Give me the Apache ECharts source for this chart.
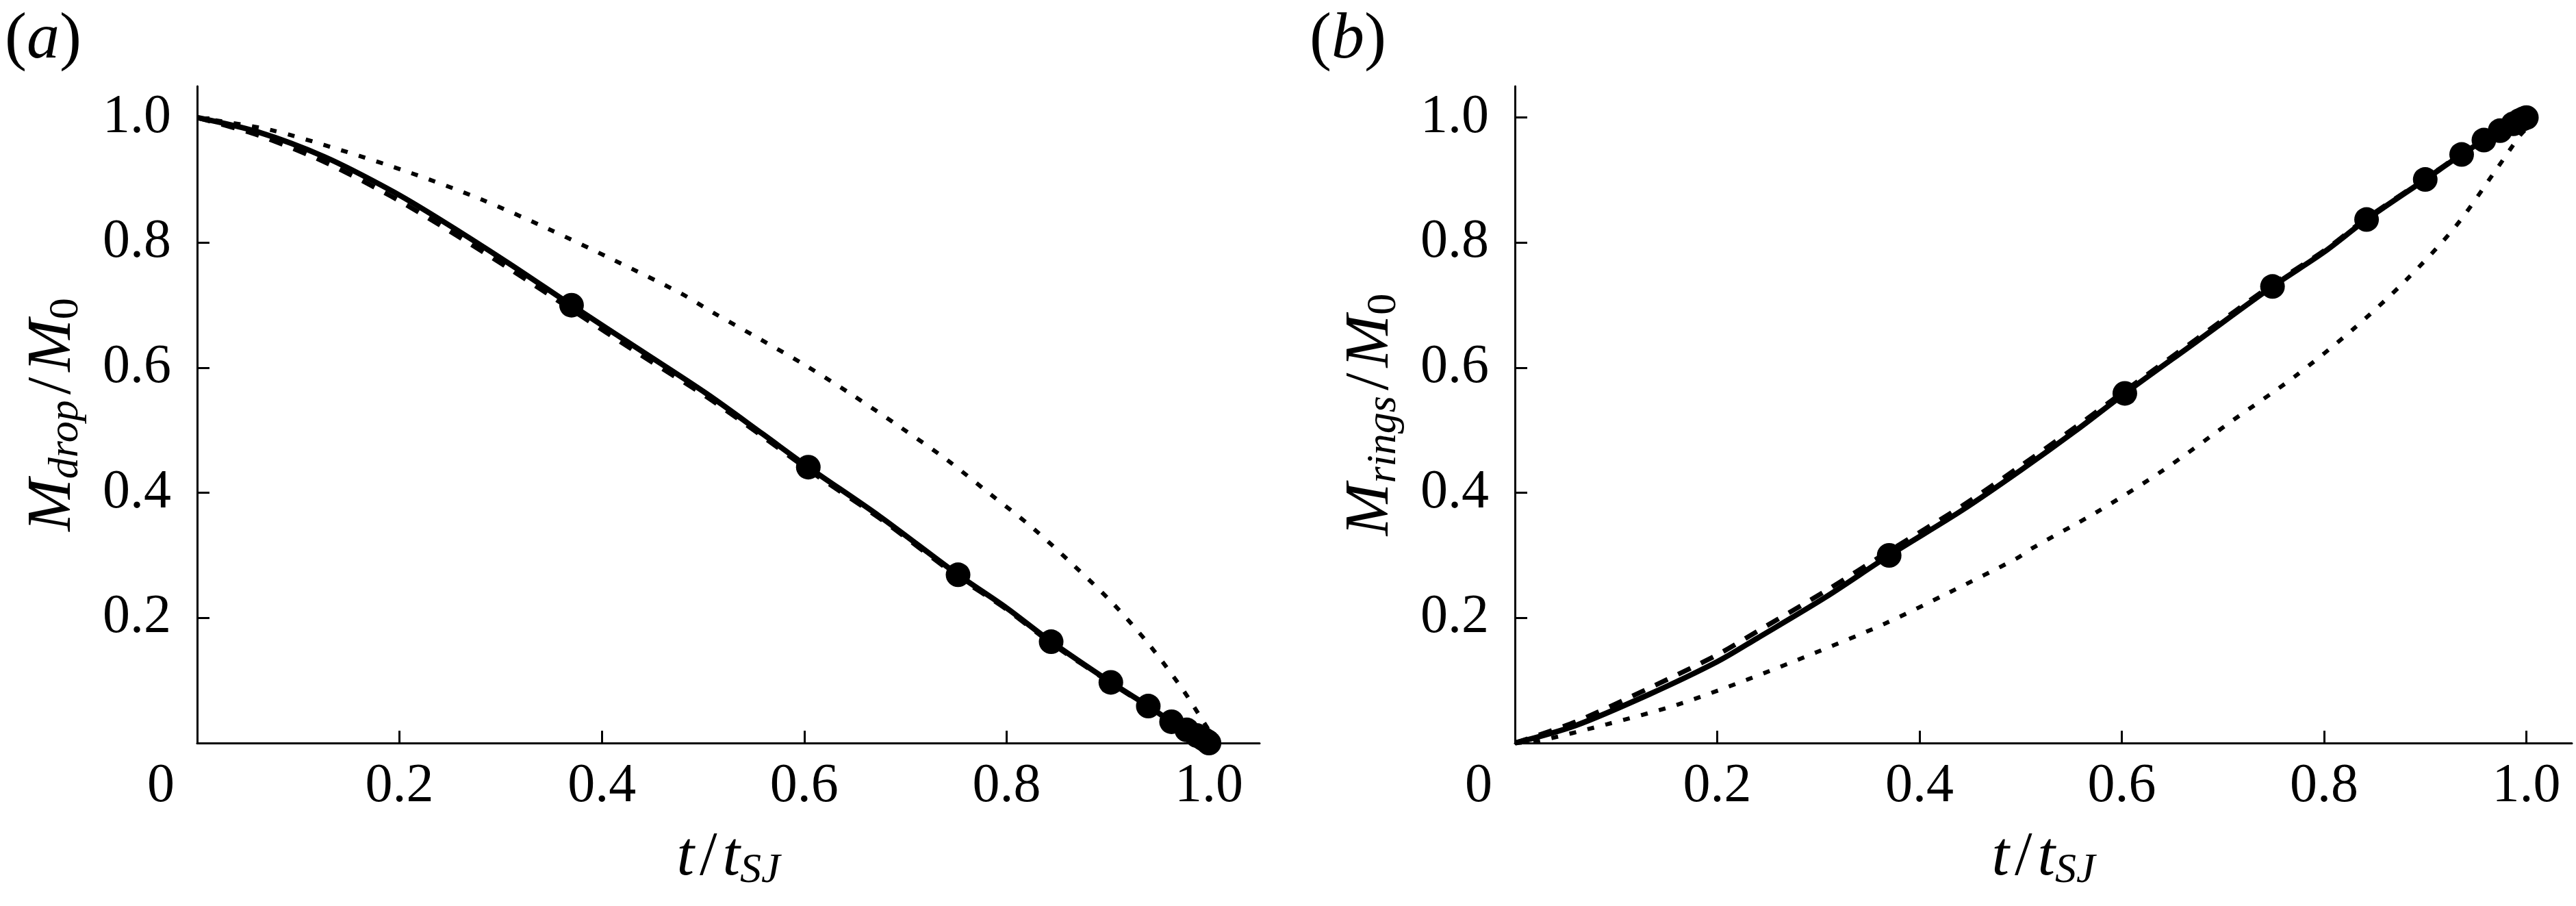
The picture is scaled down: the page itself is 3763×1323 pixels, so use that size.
<!DOCTYPE html>
<html>
<head>
<meta charset="utf-8">
<script src="https://cdn.jsdelivr.net/npm/echarts@6/dist/echarts.min.js"></script>
<style>
html, body { margin: 0; padding: 0; background: #fff; }
#chart { width: 3763px; height: 1323px; }
</style>
</head>
<body>
<div id="chart"></div>
<script>
// tick / label positions
var xTickValues = [0.2, 0.4, 0.6, 0.8, 1.0];
var xLabelValues = [0, 0.2, 0.4, 0.6, 0.8, 1.0];
var yTickValues = [0.2, 0.4, 0.6, 0.8, 1.0];
var yLabelValues = [0.2, 0.4, 0.6, 0.8, 1.0];

// (a) M_drop / M_0
var dropSolid = [[0, 1.0], [0.06, 0.977], [0.126, 0.937], [0.192, 0.883], [0.239, 0.838], [0.307, 0.768],
    [0.370, 0.700], [0.438, 0.628], [0.504, 0.558], [0.559, 0.494], [0.604, 0.441], [0.674, 0.363],
    [0.752, 0.269], [0.799, 0.217], [0.844, 0.162], [0.903, 0.097], [0.940, 0.059], [0.963, 0.034],
    [0.978, 0.021], [0.990, 0.010], [1.0, 0.0]];
var dropDashed = [[0, 1.0], [0.06, 0.972], [0.126, 0.929], [0.192, 0.874], [0.239, 0.829], [0.307, 0.760],
    [0.370, 0.693], [0.438, 0.621], [0.504, 0.553], [0.559, 0.490], [0.604, 0.437], [0.674, 0.360],
    [0.752, 0.266], [0.799, 0.215], [0.844, 0.160], [0.903, 0.096], [0.940, 0.058], [0.963, 0.034],
    [0.978, 0.021], [0.990, 0.010], [1.0, 0.0]];
var dropDotted = [[0, 1.0], [0.073, 0.980], [0.142, 0.948], [0.212, 0.911], [0.281, 0.869], [0.347, 0.822],
    [0.412, 0.772], [0.478, 0.719], [0.510, 0.688], [0.556, 0.646], [0.602, 0.603], [0.648, 0.556],
    [0.694, 0.506], [0.740, 0.454], [0.783, 0.399], [0.825, 0.345], [0.865, 0.286], [0.904, 0.225],
    [0.940, 0.159], [0.973, 0.088], [0.993, 0.038], [1.0, 0.02]];
var dropDots = [[0.370, 0.700], [0.604, 0.441], [0.752, 0.269], [0.844, 0.162], [0.903, 0.097], [0.940, 0.059],
    [0.963, 0.034], [0.978, 0.021], [0.988, 0.012], [0.994, 0.007], [0.998, 0.003], [1.0, 0.0]];

// (b) M_rings / M_0
var ringsSolid = [[0, 0], [0.06, 0.028], [0.133, 0.078], [0.200, 0.130], [0.239, 0.167], [0.307, 0.233],
    [0.370, 0.300], [0.442, 0.372], [0.500, 0.436], [0.555, 0.500], [0.603, 0.559], [0.674, 0.642],
    [0.749, 0.730], [0.800, 0.785], [0.842, 0.837], [0.900, 0.901], [0.936, 0.941], [0.958, 0.964],
    [0.974, 0.979], [0.987, 0.990], [1.0, 1.0]];
var ringsDashed = [[0, 0], [0.06, 0.034], [0.133, 0.088], [0.200, 0.141], [0.239, 0.178], [0.307, 0.243],
    [0.370, 0.307], [0.442, 0.379], [0.500, 0.443], [0.555, 0.506], [0.603, 0.563], [0.674, 0.646],
    [0.749, 0.733], [0.800, 0.787], [0.842, 0.839], [0.900, 0.902], [0.936, 0.942], [0.958, 0.964],
    [0.974, 0.979], [0.987, 0.990], [1.0, 1.0]];
var ringsDotted = [[0, 0], [0.022, 0.003], [0.091, 0.030], [0.160, 0.061], [0.229, 0.101], [0.298, 0.145],
    [0.366, 0.191], [0.431, 0.242], [0.497, 0.296], [0.511, 0.311], [0.576, 0.370], [0.639, 0.434],
    [0.709, 0.515], [0.771, 0.586], [0.829, 0.662], [0.881, 0.740], [0.930, 0.826], [0.972, 0.921],
    [0.994, 0.972], [1.0, 0.982]];
var ringsDots = [[0.370, 0.300], [0.603, 0.559], [0.749, 0.730], [0.842, 0.837], [0.900, 0.901], [0.936, 0.941],
    [0.958, 0.964], [0.974, 0.979], [0.987, 0.990], [0.993, 0.995], [0.997, 0.998], [1.0, 1.0]];

var FONT = "'Liberation Serif', 'Times New Roman', Times, serif";
var chart = echarts.init(document.getElementById('chart'), null, { renderer: 'canvas' });

var nameRich = {
    i: { fontFamily: FONT, fontStyle: 'italic', fontSize: 92, lineHeight: 100, color: '#000', verticalAlign: 'middle' },
    n: { fontFamily: FONT, fontSize: 92, lineHeight: 100, color: '#000', verticalAlign: 'middle', padding: [0, 8, 0, 8] },
    s: { fontFamily: FONT, fontStyle: 'italic', fontSize: 62, lineHeight: 62, color: '#000', verticalAlign: 'bottom' },
    z: { fontFamily: FONT, fontSize: 62, lineHeight: 62, color: '#000', verticalAlign: 'bottom' }
};

function xAxisFor(gridIndex, max) {
    return {
        type: 'value', gridIndex: gridIndex, min: 0, max: max,
        name: '{i|t}{n|/}{i|t}{s|SJ}', nameLocation: 'middle', nameGap: 118,
        nameTextStyle: { rich: nameRich },
        axisLine: { show: true, onZero: false, lineStyle: { color: '#000', width: 3 } },
        axisTick: { show: true, inside: true, length: 18, lineStyle: { color: '#000', width: 3 }, customValues: xTickValues },
        axisLabel: {
            customValues: xLabelValues, margin: 24, color: '#000', fontFamily: FONT, fontSize: 80,
            formatter: function (v) { return v === 0 ? '{z|0}' : v.toFixed(1); },
            rich: { z: { fontFamily: FONT, fontSize: 80, color: '#000', padding: [0, 106, 0, 0] } }
        },
        splitLine: { show: false }
    };
}

function yAxisFor(gridIndex, title) {
    return {
        type: 'value', gridIndex: gridIndex, min: 0, max: 1.05,
        name: title, nameLocation: 'middle', nameGap: 160, nameRotate: 90,
        nameTextStyle: { rich: nameRich },
        axisLine: { show: true, onZero: false, lineStyle: { color: '#000', width: 3 } },
        axisTick: { show: true, inside: true, length: 18, lineStyle: { color: '#000', width: 3 }, customValues: yTickValues },
        axisLabel: {
            customValues: yLabelValues, margin: 38, color: '#000', fontFamily: FONT, fontSize: 80,
            formatter: function (v) { return v.toFixed(1); }
        },
        splitLine: { show: false }
    };
}

function lineSeries(idx, data, width, dash, z) {
    return {
        type: 'line', xAxisIndex: idx, yAxisIndex: idx, data: data, symbol: 'none',
        smooth: 0.3, z: z, silent: true,
        lineStyle: { color: '#000', width: width, type: dash, cap: 'butt' }
    };
}

function dotSeries(idx, data) {
    return {
        type: 'scatter', xAxisIndex: idx, yAxisIndex: idx, data: data, symbol: 'circle',
        symbolSize: 36, z: 10, silent: true, itemStyle: { color: '#000', opacity: 1 }
    };
}

var option = {
    backgroundColor: '#fff',
    animation: false,
    title: [
        { text: '{n|(}{i|a}{n|)}', left: 2, top: 6, textStyle: { rich: {
            n: { fontFamily: FONT, fontWeight: 'normal', fontSize: 96, color: '#000' },
            i: { fontFamily: FONT, fontWeight: 'normal', fontStyle: 'italic', fontSize: 96, color: '#000' } } } },
        { text: '{n|(}{i|b}{n|)}', left: 1908, top: 6, textStyle: { rich: {
            n: { fontFamily: FONT, fontWeight: 'normal', fontSize: 96, color: '#000' },
            i: { fontFamily: FONT, fontWeight: 'normal', fontStyle: 'italic', fontSize: 96, color: '#000' } } } }
    ],
    grid: [
        { left: 288, top: 126, width: 1552, height: 959, outerBoundsMode: 'none' },
        { left: 2213, top: 126, width: 1544, height: 959, outerBoundsMode: 'none' }
    ],
    xAxis: [xAxisFor(0, 1.05), xAxisFor(1, 1.045)],
    yAxis: [
        yAxisFor(0, '{i|M}{s|drop}{n|/}{i|M}{z|0}'),
        yAxisFor(1, '{i|M}{s|rings}{n|/}{i|M}{z|0}')
    ],
    series: [
        lineSeries(0, dropDotted, 6, [10, 17], 3),
        lineSeries(0, dropDashed, 7, [20, 17], 4),
        lineSeries(0, dropSolid, 8, 'solid', 5),
        dotSeries(0, dropDots),
        lineSeries(1, ringsDotted, 6, [10, 17], 3),
        lineSeries(1, ringsDashed, 7, [20, 17], 4),
        lineSeries(1, ringsSolid, 8, 'solid', 5),
        dotSeries(1, ringsDots)
    ]
};

chart.setOption(option);
</script>
</body>
</html>
